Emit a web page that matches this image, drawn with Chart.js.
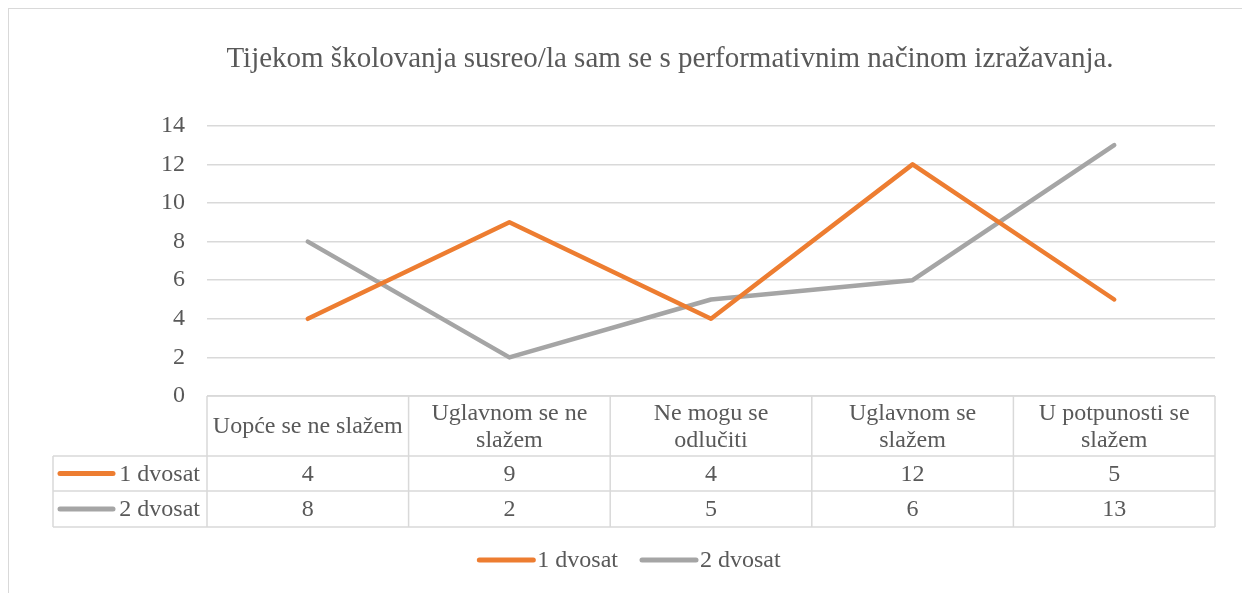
<!DOCTYPE html>
<html>
<head>
<meta charset="utf-8">
<script src="https://cdn.jsdelivr.net/npm/chart.js@4/dist/chart.umd.min.js"></script>
<style>
  html, body { margin: 0; padding: 0; background: #fff; overflow: hidden; }
  #wrap { position: relative; width: 1242px; height: 593px; }
  #frame { position: absolute; left: 8px; top: 8px; width: 1260px; height: 620px; border: 1.5px solid #d9d9d9; }
  canvas { position: absolute; left: 0; top: 0; }
</style>
</head>
<body>
<div id="wrap">
  <div id="frame"></div>
  <canvas id="chart" width="1242" height="593"></canvas>
</div>
<script>
// data
const title = "Tijekom školovanja susreo/la sam se s performativnim načinom izražavanja.";
const categories = [
  ["Uopće se ne slažem"],
  ["Uglavnom se ne", "slažem"],
  ["Ne mogu se", "odlučiti"],
  ["Uglavnom se", "slažem"],
  ["U potpunosti se", "slažem"]
];
const seriesNames = ["1 dvosat", "2 dvosat"];
const dvosat1 = [4, 9, 4, 12, 5];
const dvosat2 = [8, 2, 5, 6, 13];
const yTicks = [0, 2, 4, 6, 8, 10, 12, 14];

const FONT = "'Liberation Serif', 'Times New Roman', serif";
const TXT = "#595959";
const GRID = "#d9d9d9";

// data table + legend under the plot, drawn from the x scale
const tableAndLegend = {
  id: "tableAndLegend",
  afterDraw(chart) {
    const { ctx, chartArea: a, scales: { x } } = chart;
    const n = chart.data.labels.length;
    const step = (a.right - a.left) / n;
    const tLeft = a.left - 154;
    const top = a.bottom, hdrBot = top + 60, r1Bot = hdrBot + 35, r2Bot = r1Bot + 36;
    const rows = [[hdrBot, r1Bot], [r1Bot, r2Bot]];

    ctx.save();
    ctx.strokeStyle = GRID;
    ctx.lineWidth = 1.5;
    ctx.beginPath();
    ctx.moveTo(a.left, top); ctx.lineTo(a.right, top);
    [hdrBot, r1Bot, r2Bot].forEach(y => { ctx.moveTo(tLeft, y); ctx.lineTo(a.right, y); });
    for (let i = 0; i <= n; i++) {
      const xx = a.left + i * step;
      ctx.moveTo(xx, top); ctx.lineTo(xx, r2Bot);
    }
    ctx.moveTo(tLeft, hdrBot); ctx.lineTo(tLeft, r2Bot);
    ctx.stroke();

    ctx.fillStyle = TXT;
    ctx.font = "24px " + FONT;
    ctx.textAlign = "center";
    ctx.textBaseline = "middle";
    chart.data.labels.forEach((lab, i) => {
      const cx = x.getPixelForValue(i);
      const lines = Array.isArray(lab) ? lab : [lab];
      const lh = 27, mid = (top + hdrBot) / 2;
      lines.forEach((t, k) => ctx.fillText(t, cx, mid + 1 + (k - (lines.length - 1) / 2) * lh));
    });

    chart.data.datasets.forEach((ds, d) => {
      const [y0, y1] = rows[d];
      const cy = (y0 + y1) / 2;
      ctx.fillStyle = TXT;
      ctx.textAlign = "center";
      ds.data.forEach((v, i) => ctx.fillText(String(v), x.getPixelForValue(i), cy + 1));
      ctx.textAlign = "right";
      ctx.fillText(ds.label, a.left - 7, cy + 1);
      ctx.strokeStyle = ds.borderColor;
      ctx.lineWidth = 5;
      ctx.lineCap = "round";
      ctx.beginPath();
      ctx.moveTo(tLeft + 7, cy); ctx.lineTo(tLeft + 60, cy);
      ctx.stroke();
    });

    // legend
    const ly = 560;
    const keyW = 54, gap = 4, itemGap = 24;
    ctx.textAlign = "left";
    const widths = chart.data.datasets.map(ds => keyW + gap + ctx.measureText(ds.label).width);
    const total = widths.reduce((s, w) => s + w, 0) + itemGap * (widths.length - 1);
    let lx = (tLeft + a.right) / 2 - 4 - total / 2;
    chart.data.datasets.forEach((ds, d) => {
      ctx.strokeStyle = ds.borderColor;
      ctx.lineWidth = 5;
      ctx.lineCap = "round";
      ctx.beginPath();
      ctx.moveTo(lx, ly); ctx.lineTo(lx + keyW, ly);
      ctx.stroke();
      ctx.fillStyle = TXT;
      ctx.fillText(ds.label, lx + keyW + gap, ly + 1);
      lx += widths[d] + itemGap;
    });
    ctx.restore();
  }
};

new Chart(document.getElementById("chart"), {
  type: "line",
  data: {
    labels: categories,
    datasets: [
      { label: seriesNames[0], data: dvosat1, borderColor: "#ED7D31", backgroundColor: "#ED7D31" },
      { label: seriesNames[1], data: dvosat2, borderColor: "#A5A5A5", backgroundColor: "#A5A5A5" }
    ]
  },
  options: {
    responsive: false,
    animation: false,
    layout: { padding: { left: 125, right: 27, top: 0, bottom: 197 } },
    elements: {
      line: { borderWidth: 4.5, borderCapStyle: "round", borderJoinStyle: "round", tension: 0 },
      point: { radius: 0, hoverRadius: 0 }
    },
    plugins: {
      legend: { display: false },
      tooltip: { enabled: false },
      title: {
        display: true,
        text: title,
        color: TXT,
        font: { family: FONT, size: 29, weight: "normal", lineHeight: 1.2 },
        padding: { top: 42, bottom: 49 }
      }
    },
    scales: {
      x: { type: "category", display: false, offset: true },
      y: {
        min: 0, max: 14,
        afterFit: s => { s.width = 82; },
        afterBuildTicks: s => { s.ticks = yTicks.map(v => ({ value: v })); },
        border: { display: false },
        grid: { color: GRID, lineWidth: 1.5, drawTicks: false },
        ticks: { color: TXT, padding: 22, font: { family: FONT, size: 24 } }
      }
    }
  },
  plugins: [tableAndLegend]
});
</script>
</body>
</html>
